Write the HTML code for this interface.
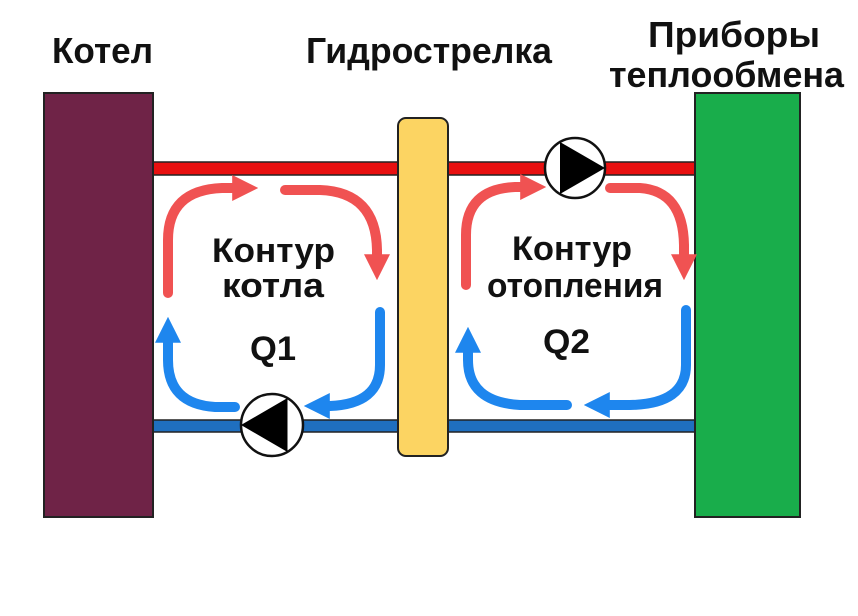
<!DOCTYPE html>
<html><head><meta charset="utf-8"><style>
html,body{margin:0;padding:0;background:#fff;width:858px;height:616px;overflow:hidden}
svg{display:block}
text{font-family:"Liberation Sans","DejaVu Sans",sans-serif;font-weight:bold;fill:#111}
</style></head><body>
<svg width="858" height="616" viewBox="0 0 858 616">
<defs>
<marker id="ar" viewBox="0 0 10 10" refX="3" refY="5" markerWidth="2.6" markerHeight="2.8" orient="auto" markerUnits="strokeWidth"><path d="M0,0 L10,5 L0,10 z" fill="#f05252"/></marker>
<marker id="ab" viewBox="0 0 10 10" refX="3" refY="5" markerWidth="2.6" markerHeight="2.8" orient="auto" markerUnits="strokeWidth"><path d="M0,0 L10,5 L0,10 z" fill="#1e86ee"/></marker>
</defs>
<text x="52" y="63" font-size="36" textLength="101" lengthAdjust="spacingAndGlyphs">Котел</text>
<text x="306" y="63" font-size="36" textLength="246" lengthAdjust="spacingAndGlyphs">Гидрострелка</text>
<text x="648" y="47" font-size="36" textLength="172" lengthAdjust="spacingAndGlyphs">Приборы</text>
<text x="609" y="87" font-size="36" textLength="235" lengthAdjust="spacingAndGlyphs">теплообмена</text>
<rect x="150" y="162" width="548" height="13" fill="#e81010" stroke="#222" stroke-width="1.5"/>
<rect x="150" y="420" width="548" height="12" fill="#1f6fbf" stroke="#222" stroke-width="1.5"/>
<rect x="44" y="93" width="109" height="424" fill="#6f2347" stroke="#222" stroke-width="2"/>
<rect x="398" y="118" width="50" height="338" rx="8" fill="#fcd462" stroke="#222" stroke-width="2"/>
<rect x="695" y="93" width="105" height="424" fill="#19ad4b" stroke="#222" stroke-width="2"/>
<g fill="none" stroke-width="10" stroke-linecap="round">
<path d="M168,293 L168,240 Q168,190 222,188 L240,188" stroke="#f05252" marker-end="url(#ar)"/>
<path d="M285,190 L320,190 Q376,192 377,250 L377,262" stroke="#f05252" marker-end="url(#ar)"/>
<path d="M380,312 L380,365 Q380,404 330,406 L322,406" stroke="#1e86ee" marker-end="url(#ab)"/>
<path d="M235,407 L215,407 Q168,404 168,360 L168,335" stroke="#1e86ee" marker-end="url(#ab)"/>
<path d="M466,285 L466,235 Q466,189 515,187 L528,187" stroke="#f05252" marker-end="url(#ar)"/>
<path d="M610,188 L640,188 Q683,191 684,245 L684,262" stroke="#f05252" marker-end="url(#ar)"/>
<path d="M686,310 L686,365 Q686,404 630,405 L602,405" stroke="#1e86ee" marker-end="url(#ab)"/>
<path d="M567,405 L520,405 Q468,402 468,360 L468,345" stroke="#1e86ee" marker-end="url(#ab)"/>
</g>
<circle cx="272" cy="425" r="31" fill="#fff" stroke="#111" stroke-width="2.5"/>
<path d="M241,425 L287.5,398 L287.5,452 z" fill="#000"/>
<circle cx="575" cy="168" r="30" fill="#fff" stroke="#111" stroke-width="2.5"/>
<path d="M605,168 L560,142 L560,194 z" fill="#000"/>
<text x="212" y="262" font-size="34" textLength="123" lengthAdjust="spacingAndGlyphs">Контур</text>
<text x="222" y="297" font-size="34" textLength="102" lengthAdjust="spacingAndGlyphs">котла</text>
<text x="250" y="360" font-size="34" textLength="46" lengthAdjust="spacingAndGlyphs">Q1</text>
<text x="512" y="260" font-size="34" textLength="120" lengthAdjust="spacingAndGlyphs">Контур</text>
<text x="487" y="297" font-size="34" textLength="176" lengthAdjust="spacingAndGlyphs">отопления</text>
<text x="543" y="353" font-size="34" textLength="47" lengthAdjust="spacingAndGlyphs">Q2</text>
</svg>
</body></html>
